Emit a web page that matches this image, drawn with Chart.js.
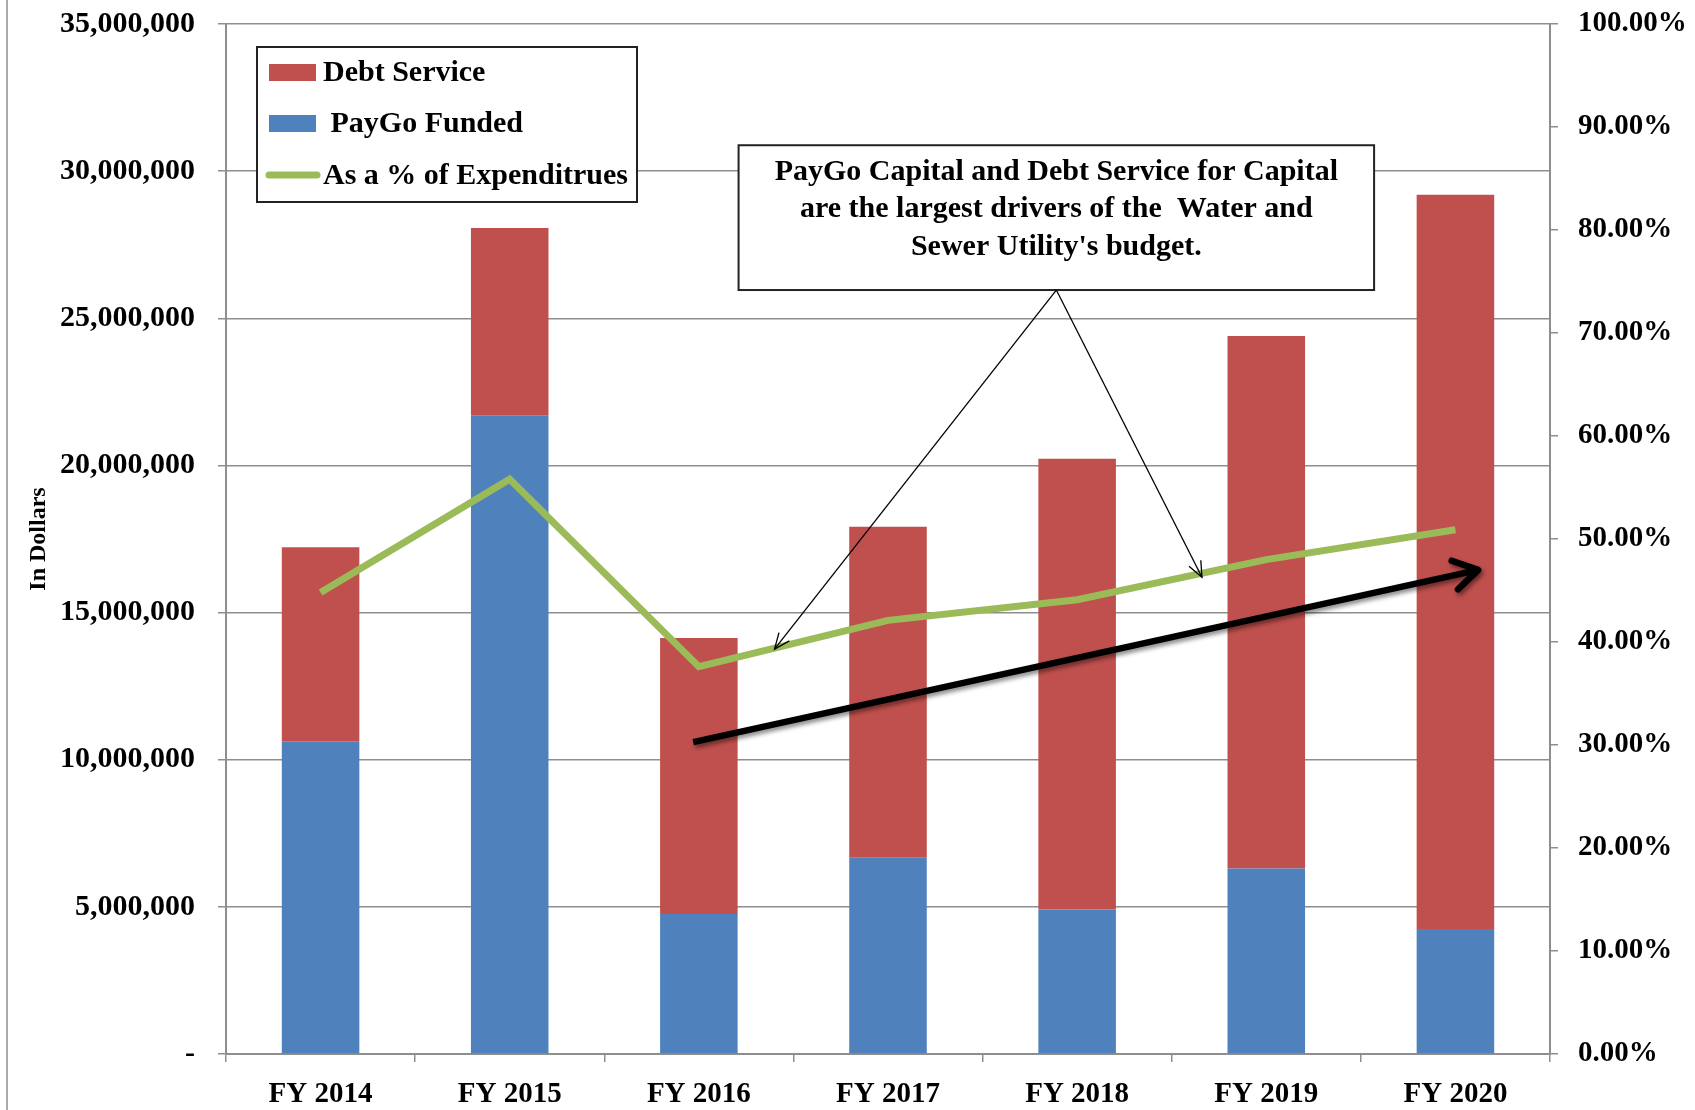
<!DOCTYPE html>
<html>
<head>
<meta charset="utf-8">
<script src="https://cdn.jsdelivr.net/npm/chart.js@4.4.0/dist/chart.umd.min.js"></script>
<style>
  html, body { margin: 0; padding: 0; background: #fff; }
  canvas { display: block; }
</style>
</head>
<body>
<canvas id="chart_one" width="1695" height="1110"></canvas>
<script>
// data
var years = ["FY 2014", "FY 2015", "FY 2016", "FY 2017", "FY 2018", "FY 2019", "FY 2020"];
var paygoFunded = [10630000, 21690000, 4760000, 6670000, 4910000, 6300000, 4250000];
var debtService = [6590000, 6380000, 9380000, 11250000, 15320000, 18100000, 24950000];
var pctOfExpenditures = [44.8, 55.8, 37.6, 42.1, 44.1, 48.0, 50.9];
var noteLines = [
  "PayGo Capital and Debt Service for Capital",
  "are the largest drivers of the  Water and",
  "Sewer Utility's budget."
];

var RED = "#c0504d", BLUE = "#4f81bd", GREEN = "#9bbb59", GRID = "#8e8e8e";
var FONT = "'Liberation Serif', 'DejaVu Serif', serif";

Chart.defaults.font.family = FONT;
Chart.defaults.font.size = 29;
Chart.defaults.font.weight = "bold";
Chart.defaults.color = "#000";

function drawArrow(ctx, x0, y0, x1, y1, head, spread) {
  var a = Math.atan2(y1 - y0, x1 - x0);
  ctx.beginPath();
  ctx.moveTo(x0, y0);
  ctx.lineTo(x1, y1);
  ctx.stroke();
  ctx.beginPath();
  ctx.moveTo(x1 - head * Math.cos(a - spread), y1 - head * Math.sin(a - spread));
  ctx.lineTo(x1, y1);
  ctx.lineTo(x1 - head * Math.cos(a + spread), y1 - head * Math.sin(a + spread));
  ctx.stroke();
}

// fixed axis sizes so the plot area matches the reference
function fixWidth(w) {
  return function (s) { s.width = w; s.paddingTop = 0; s.paddingBottom = 0; };
}

// legend, callout box and arrows drawn on top of the chart
var extrasPlugin = {
  id: "extras",
  beforeDraw: function (chart) {
    var ctx = chart.ctx;
    ctx.save();
    ctx.strokeStyle = GRID;
    ctx.lineWidth = 1.5;
    ctx.beginPath();
    ctx.moveTo(7, 0);
    ctx.lineTo(7, chart.height);
    ctx.stroke();
    ctx.restore();
  },
  afterDatasetsDraw: function (chart) {
    var ctx = chart.ctx, area = chart.chartArea;
    var xs = chart.scales.x, ys = chart.scales.y;
    ctx.save();

    // legend box
    var lx = area.left + 31, ly = area.top + 23;
    ctx.fillStyle = "#fff";
    ctx.fillRect(lx, ly, 380, 155);
    ctx.strokeStyle = "#222";
    ctx.lineWidth = 2;
    ctx.strokeRect(lx, ly, 380, 155);
    var sets = chart.data.datasets;
    var legendOrder = [1, 0, 2];
    var rowY = [25, 76, 128];
    ctx.font = "bold 30px " + FONT;
    ctx.textBaseline = "middle";
    ctx.textAlign = "left";
    legendOrder.forEach(function (di, i) {
      var ds = sets[di];
      var cy = ly + rowY[i];
      if (ds.type === "line") {
        ctx.strokeStyle = ds.borderColor;
        ctx.lineWidth = 7;
        ctx.lineCap = "round";
        ctx.beginPath();
        ctx.moveTo(lx + 12, cy);
        ctx.lineTo(lx + 60, cy);
        ctx.stroke();
      } else {
        ctx.fillStyle = ds.backgroundColor;
        ctx.fillRect(lx + 12, cy - 8, 47, 17);
      }
      ctx.fillStyle = "#000";
      ctx.fillText((di === 0 ? " " : "") + ds.label, lx + 66, cy + 1);
    });

    // callout box
    var bx0 = xs.getPixelForValue(2.21), bx1 = xs.getPixelForValue(5.57);
    var by0 = ys.getPixelForValue(30880000), by1 = ys.getPixelForValue(25960000);
    ctx.fillStyle = "#fff";
    ctx.fillRect(bx0, by0, bx1 - bx0, by1 - by0);
    ctx.strokeStyle = "#222";
    ctx.lineWidth = 2;
    ctx.strokeRect(bx0, by0, bx1 - bx0, by1 - by0);
    ctx.fillStyle = "#000";
    ctx.textAlign = "center";
    ctx.font = "bold 30px " + FONT;
    noteLines.forEach(function (t, i) {
      ctx.fillText(t, (bx0 + bx1) / 2, by0 + 27 + i * 37.5);
    });

    // thin pointer arrows
    ctx.strokeStyle = "#000";
    ctx.lineWidth = 1.3;
    ctx.lineCap = "butt";
    var ax = xs.getPixelForValue(3.89), ay = by1;
    drawArrow(ctx, ax, ay, xs.getPixelForValue(2.4), ys.getPixelForValue(13760000), 17, 0.4);
    drawArrow(ctx, ax, ay, xs.getPixelForValue(4.66), ys.getPixelForValue(16200000), 17, 0.4);

    // thick trend arrow
    ctx.shadowColor = "rgba(0,0,0,0.45)";
    ctx.shadowBlur = 4;
    ctx.shadowOffsetX = 2;
    ctx.shadowOffsetY = 3;
    ctx.lineWidth = 6.5;
    ctx.lineCap = "butt";
    ctx.lineJoin = "round";
    var tx0 = xs.getPixelForValue(1.97), ty0 = ys.getPixelForValue(10600000);
    var tx1 = xs.getPixelForValue(6.12), ty1 = ys.getPixelForValue(16450000);
    ctx.beginPath();
    ctx.moveTo(tx0, ty0);
    ctx.lineTo(tx1 - 3, ty1 + 0.7);
    ctx.stroke();
    ctx.lineCap = "round";
    var a = Math.atan2(ty1 - ty0, tx1 - tx0);
    ctx.beginPath();
    ctx.moveTo(tx1 - 28 * Math.cos(a - 0.55), ty1 - 28 * Math.sin(a - 0.55));
    ctx.lineTo(tx1, ty1);
    ctx.lineTo(tx1 - 28 * Math.cos(a + 0.55), ty1 - 28 * Math.sin(a + 0.55));
    ctx.stroke();
    ctx.restore();
  }
};

var cvs = document.getElementById("chart_one").getContext("2d");
var budgetChart = new Chart(cvs, {
  type: "bar",
  data: {
    labels: years,
    datasets: [
      {
        label: "PayGo Funded",
        data: paygoFunded,
        backgroundColor: BLUE,
        stack: "s",
        order: 2
      },
      {
        label: "Debt Service",
        data: debtService,
        backgroundColor: RED,
        stack: "s",
        order: 2
      },
      {
        type: "line",
        label: "As a % of Expenditrues",
        data: pctOfExpenditures,
        yAxisID: "y1",
        borderColor: GREEN,
        borderWidth: 7,
        pointRadius: 0,
        tension: 0,
        borderJoinStyle: "miter",
        borderCapStyle: "butt",
        order: 1
      }
    ]
  },
  options: {
    responsive: false,
    animation: false,
    layout: { autoPadding: false, padding: { top: 24, left: 0, right: 0, bottom: 0 } },
    datasets: { bar: { categoryPercentage: 1, barPercentage: 0.41 } },
    plugins: { legend: { display: false }, tooltip: { enabled: false } },
    scales: {
      x: {
        stacked: true,
        afterFit: function (s) { s.height = 56; s.paddingLeft = 0; s.paddingRight = 0; },
        grid: { drawOnChartArea: false, drawTicks: true, tickLength: 8, color: GRID, lineWidth: 1.5, offset: true },
        border: { display: true, color: GRID, width: 2 },
        ticks: { padding: 15, font: { size: 29 } }
      },
      y: {
        stacked: true,
        position: "left",
        min: 0,
        max: 35000000,
        afterFit: fixWidth(226),
        grid: { color: GRID, lineWidth: 1.5, tickLength: 8 },
        border: { display: true, color: GRID, width: 2 },
        title: { display: true, text: "In Dollars", font: { size: 24 }, padding: { top: 24, bottom: 0 } },
        ticks: {
          stepSize: 5000000,
          padding: 23,
          font: { size: 30 },
          callback: function (v) { return v === 0 ? "-" : v.toLocaleString("en-US"); }
        }
      },
      y1: {
        position: "right",
        min: 0,
        max: 100,
        afterFit: fixWidth(145),
        grid: { drawOnChartArea: false, color: GRID, lineWidth: 1.5, tickLength: 8 },
        border: { display: true, color: GRID, width: 2 },
        ticks: {
          stepSize: 10,
          padding: 20,
          callback: function (v) { return v.toFixed(2) + "%"; }
        }
      }
    }
  },
  plugins: [extrasPlugin]
});
</script>
</body>
</html>
